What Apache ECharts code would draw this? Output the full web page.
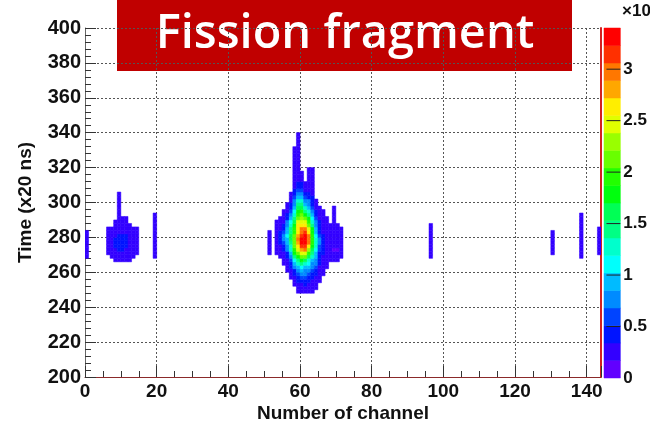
<!DOCTYPE html>
<html>
<head>
<meta charset="utf-8">
<script src="https://cdn.jsdelivr.net/npm/echarts@6/dist/echarts.min.js"></script>
<style>
  html, body { margin: 0; padding: 0; background: #ffffff; }
  #chart { width: 650px; height: 428px; }
</style>
</head>
<body>
<div id="chart"></div>
<script>
// Histogram binning
const CHANNEL_BIN = 1;   // one channel per bin
const TIME_BIN = 2;      // time units per bin

// Axis ranges and tick spacing
const channelRange = [0, 144];
const channelStep = 20;
const timeRange = [200, 400];
const timeStep = 20;

// Colour scale: counts from 0 to zMax split into nLevels contour bands
const zMax = 34;
const nLevels = 20;
const zTickValues = [0, 5, 10, 15, 20, 25, 30];
const zTickLabels = ['0', '0.5', '1', '1.5', '2', '2.5', '3'];
const zScaleTitle = '\u00d710';
const paletteColors = [
  '#6200ff', '#3300ff', '#0014ff', '#0044ff', '#008bff',
  '#00bbff', '#00fffc', '#00ffcc', '#00ff85', '#00ff55',
  '#00ff0e', '#22ff00', '#69ff00', '#99ff00', '#e0ff00',
  '#ffee00', '#ffa700', '#ff7700', '#ff3000', '#ff0000'
];

// Single-channel hits: [channel, first time bin, last time bin, counts]
const isolatedHits = [
  [0, 268, 282, 2],
  [19, 268, 292, 2],
  [51, 270, 282, 2],
  [96, 268, 286, 2],
  [130, 270, 282, 2],
  [138, 268, 292, 2],
  [143, 270, 284, 2]
];

// Small cluster near channel 10: [channel, first time bin, counts per bin upward]
const leftCluster = [
  [6, 270, [2, 2, 2, 2, 2, 2, 2, 2]],
  [7, 268, [2, 2, 2, 3, 3, 3, 2, 2, 2]],
  [8, 266, [2, 2, 3, 3, 4, 4, 4, 3, 3, 2, 2, 2]],
  [9, 266, [2, 2, 3, 4, 4, 5, 5, 4, 3, 3, 2, 2, 2, 2, 2, 2, 2, 2, 2, 2]],
  [10, 266, [2, 2, 3, 4, 5, 5, 5, 4, 3, 3, 2, 2, 2]],
  [11, 266, [2, 2, 3, 3, 4, 5, 4, 4, 3, 2, 2, 2, 2]],
  [12, 266, [2, 2, 2, 3, 3, 3, 3, 2, 2, 2, 2]],
  [13, 268, [2, 2, 2, 2, 3, 2, 2, 2, 2]],
  [14, 270, [2, 2, 2, 2, 2, 2, 2, 2]]
];

// Main fission-fragment peak around channel 60
const mainCluster = [
  [53, 270, [2, 2, 2, 3, 3, 3, 3, 2, 2, 2]],
  [54, 268, [2, 2, 3, 3, 4, 5, 5, 4, 3, 3, 2, 2]],
  [55, 264, [2, 2, 3, 3, 4, 5, 6, 7, 7, 6, 5, 4, 3, 3, 2, 2]],
  [56, 260, [2, 2, 3, 3, 4, 5, 7, 8, 9, 10, 11, 10, 9, 8, 7, 5, 4, 3, 2, 2]],
  [57, 256, [2, 2, 3, 4, 5, 6, 8, 10, 12, 13, 15, 16, 16, 15, 14, 12, 11, 9, 8, 6, 5, 4, 3, 2, 2]],
  [58, 252, [2, 2, 3, 4, 5, 7, 9, 11, 14, 17, 19, 21, 22, 22, 21, 20, 19, 18, 16, 15,
             13, 11, 10, 8, 7, 6, 5, 4, 3, 3, 2, 2, 3, 2, 2, 2, 2, 2, 2, 2]],
  [59, 248, [2, 2, 3, 4, 5, 6, 8, 10, 12, 15, 18, 22, 25, 27, 28, 29, 28, 27, 27, 26,
             24, 22, 20, 18, 16, 14, 12, 10, 8, 6, 5, 4, 3, 2, 2, 2, 2, 2, 2, 2, 2, 2, 2, 2, 2, 2]],
  [60, 248, [2, 3, 3, 4, 6, 7, 9, 11, 14, 17, 21, 25, 28, 31, 33, 33, 32, 30, 29, 27,
             25, 23, 21, 19, 16, 14, 12, 10, 8, 6, 5, 4, 3, 2, 2]],
  [61, 248, [2, 3, 4, 5, 6, 7, 8, 10, 13, 16, 21, 25, 29, 32, 34, 34, 33, 31, 29, 27,
             24, 21, 18, 15, 13, 10, 8, 6, 4, 3, 2, 2]],
  [62, 248, [2, 2, 3, 4, 5, 6, 7, 9, 11, 13, 16, 20, 23, 26, 29, 30, 29, 27, 25, 22,
             20, 17, 15, 12, 10, 8, 7, 5, 4, 3, 3, 2, 2, 2, 2, 2]],
  [63, 248, [2, 2, 2, 3, 4, 5, 6, 7, 8, 10, 12, 14, 16, 18, 20, 20, 19, 18, 17, 15,
             13, 11, 9, 8, 6, 5, 4, 4, 3, 3, 2, 2, 2, 2, 2, 2]],
  [64, 250, [2, 2, 3, 3, 4, 5, 6, 7, 8, 9, 10, 11, 12, 12, 12, 11, 10, 9, 8, 7, 6, 5, 4, 3, 3, 2]],
  [65, 254, [2, 2, 2, 3, 3, 4, 4, 5, 5, 6, 6, 7, 7, 6, 5, 5, 4, 4, 3, 3, 2, 2]],
  [66, 258, [2, 2, 2, 3, 3, 3, 4, 4, 4, 4, 4, 4, 3, 3, 3, 2, 2, 2, 2]],
  [67, 262, [2, 2, 2, 3, 3, 3, 3, 3, 3, 3, 2, 2, 2, 2, 2]],
  [68, 266, [2, 2, 2, 2, 3, 3, 3, 2, 2, 2, 2]],
  [69, 266, [2, 2, 2, 1, 2, 2, 3, 2, 2, 2, 2, 2, 2, 2, 2, 2]],
  [70, 266, [2, 2, 2, 1, 2, 2, 2, 2, 2, 2, 2]],
  [71, 268, [2, 2, 2, 2, 2, 2, 2, 2, 2]]
];

// Flatten everything into [channel, time bin start, counts] cells
const cells = [];
isolatedHits.forEach(([ch, t0, t1, n]) => {
  for (let t = t0; t <= t1; t += TIME_BIN) cells.push([ch, t, n]);
});
[leftCluster, mainCluster].forEach(cluster => {
  cluster.forEach(([ch, t0, counts]) => {
    counts.forEach((n, i) => cells.push([ch, t0 + i * TIME_BIN, n]));
  });
});

// Contour bands for the colour mapping
const bandWidth = zMax / nLevels;
const pieces = paletteColors.map((color, k) => {
  const piece = { gte: k * bandWidth, color: color };
  if (k === nLevels - 1) piece.lte = zMax; else piece.lt = (k + 1) * bandWidth;
  return piece;
});

const labelFont = 'Liberation Sans, Arial, sans-serif';
const ink = '#111111';

// Draws one rectangle spanning [x0,x1] x [y0,y1] in data units
function dataRect(api, x0, y0, x1, y1, color) {
  const p0 = api.coord([x0, y0]);
  const p1 = api.coord([x1, y1]);
  return {
    type: 'rect',
    shape: { x: p0[0], y: p1[1], width: p1[0] - p0[0], height: p0[1] - p1[1] },
    style: { fill: color, stroke: color, lineWidth: 0.5 }
  };
}

const chart = echarts.init(document.getElementById('chart'), null, { renderer: 'canvas' });

chart.setOption({
  animation: false,
  backgroundColor: '#ffffff',
  title: {
    text: zScaleTitle,
    left: 622,
    top: 3,
    padding: 0,
    textStyle: { fontFamily: labelFont, fontSize: 17, fontWeight: 'bold', color: ink }
  },
  grid: [
    { left: 85, top: 28, width: 516, height: 350, containLabel: false },
    { left: 604, top: 28, width: 18, height: 350, containLabel: false }
  ],
  xAxis: [
    {
      gridIndex: 0,
      type: 'value',
      min: channelRange[0],
      max: channelRange[1],
      interval: channelStep,
      name: 'Number of channel',
      nameLocation: 'middle',
      nameGap: 27,
      nameMoveOverlap: false,
      nameTextStyle: { fontFamily: labelFont, fontSize: 19, fontWeight: 'bold', color: ink },
      axisLine: { show: true, onZero: false, lineStyle: { color: '#8b2a2a', width: 1 } },
      axisTick: { show: true, inside: true, length: 11, lineStyle: { color: '#333333', width: 1 } },
      minorTick: { show: true, splitNumber: 4, length: 6, lineStyle: { color: '#333333', width: 1 } },
      axisLabel: {
        margin: 5, fontFamily: labelFont, fontSize: 19, fontWeight: 'bold', color: ink,
        showMaxLabel: false, hideOverlap: false
      },
      splitLine: { show: true, lineStyle: { color: '#555555', width: 1, type: [2, 2] } },
      minorSplitLine: { show: false }
    },
    {
      gridIndex: 1,
      type: 'value',
      min: 0,
      max: 1,
      show: false
    }
  ],
  yAxis: [
    {
      gridIndex: 0,
      type: 'value',
      min: timeRange[0],
      max: timeRange[1],
      interval: timeStep,
      name: 'Time (x20 ns)',
      nameLocation: 'middle',
      nameGap: 50,
      nameMoveOverlap: false,
      nameTextStyle: { fontFamily: labelFont, fontSize: 19, fontWeight: 'bold', color: ink },
      axisLine: { show: true, onZero: false, lineStyle: { color: '#666666', width: 1 } },
      axisTick: { show: true, inside: true, length: 11, lineStyle: { color: '#333333', width: 1 } },
      minorTick: { show: true, splitNumber: 5, length: 6, lineStyle: { color: '#333333', width: 1 } },
      axisLabel: { margin: 4, fontFamily: labelFont, fontSize: 20, fontWeight: 'bold', color: ink, hideOverlap: false },
      splitLine: { show: true, lineStyle: { color: '#555555', width: 1, type: [2, 2] } }
    },
    {
      gridIndex: 0,
      type: 'value',
      position: 'right',
      min: timeRange[0],
      max: timeRange[1],
      axisLine: { show: true, onZero: false, lineStyle: { color: '#d42020', width: 2 } },
      axisTick: { show: false },
      axisLabel: { show: false },
      splitLine: { show: false }
    },
    {
      gridIndex: 1,
      type: 'value',
      position: 'right',
      min: 0,
      max: zMax,
      axisLine: { show: false },
      axisTick: { show: false },
      axisLabel: {
        show: true, margin: 3,
        customValues: zTickValues,
        formatter: v => zTickLabels[zTickValues.indexOf(v)],
        fontFamily: labelFont, fontSize: 17, fontWeight: 'bold', color: ink, hideOverlap: false
      },
      splitLine: { show: false }
    }
  ],
  visualMap: {
    type: 'piecewise',
    show: false,
    seriesIndex: 0,
    dimension: 2,
    pieces: pieces
  },
  series: [
    {
      name: 'counts',
      type: 'custom',
      coordinateSystem: 'cartesian2d',
      xAxisIndex: 0,
      yAxisIndex: 0,
      clip: true,
      encode: { x: 0, y: 1 },
      data: cells,
      renderItem: function (params, api) {
        const ch = api.value(0);
        const t = api.value(1);
        return dataRect(api, ch, t, ch + CHANNEL_BIN, t + TIME_BIN, api.visual('color'));
      }
    },
    {
      name: 'palette',
      type: 'custom',
      coordinateSystem: 'cartesian2d',
      xAxisIndex: 1,
      yAxisIndex: 2,
      encode: { x: 0, y: 1 },
      data: paletteColors.map((c, k) => [0, k]),
      renderItem: function (params, api) {
        const k = api.value(1);
        return dataRect(api, 0, k * bandWidth, 1, (k + 1) * bandWidth, paletteColors[k]);
      }
    },
    {
      name: 'palette ticks',
      type: 'custom',
      coordinateSystem: 'cartesian2d',
      xAxisIndex: 1,
      yAxisIndex: 2,
      z: 5,
      encode: { x: 0, y: 1 },
      data: zTickValues.slice(1).map(v => [0, v]),
      renderItem: function (params, api) {
        const v = api.value(1);
        const a = api.coord([0.15, v]);
        const b = api.coord([1, v]);
        return {
          type: 'line',
          shape: { x1: a[0], y1: a[1], x2: b[0], y2: b[1] },
          style: { stroke: '#222222', lineWidth: 1 }
        };
      }
    }
  ],
  graphic: [
    {
      type: 'group',
      z: 100,
      children: [
        { type: 'rect', shape: { x: 117, y: 0, width: 455, height: 71 }, style: { fill: '#c00000' } },
        {
          type: 'text',
          style: {
            text: 'Fission fragment',
            x: 345, y: 35,
            align: 'center', verticalAlign: 'middle',
            font: '600 47px "Open Sans", Lato, sans-serif',
            fill: '#ffffff'
          }
        }
      ]
    }
  ]
});
</script>
</body>
</html>
